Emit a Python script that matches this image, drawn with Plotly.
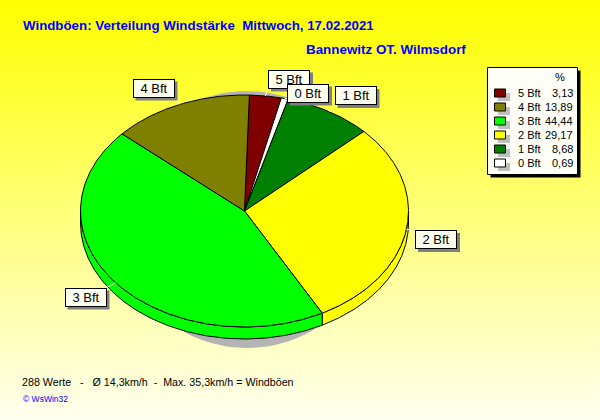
import math
import plotly.graph_objects as go

# ---- data -------------------------------------------------------------
slice_labels = ["5 Bft", "0 Bft", "1 Bft", "2 Bft", "3 Bft", "4 Bft"]
slice_values = [3.13, 0.69, 8.68, 29.17, 44.44, 13.89]
slice_colors = ["#800000", "#FFFFFF", "#008000", "#FFFF00", "#00FF00", "#808000"]

legend_labels = ["5 Bft", "4 Bft", "3 Bft", "2 Bft", "1 Bft", "0 Bft"]
legend_values = ["3,13", "13,89", "44,44", "29,17", "8,68", "0,69"]
legend_colors = ["#800000", "#808000", "#00FF00", "#FFFF00", "#008000", "#FFFFFF"]

title_1 = "Windböen: Verteilung Windstärke\u00a0\u00a0Mittwoch, 17.02.2021"
title_2 = "Bannewitz OT. Wilmsdorf"
footer_1 = "288 Werte\u00a0\u00a0\u00a0-\u00a0\u00a0\u00a0Ø 14,3km/h\u00a0\u00a0-\u00a0\u00a0Max. 35,3km/h = Windböen"
footer_2 = "© WsWin32"

# label box left/top edges, keyed by slice label (layout, in px)
label_boxes = {
    "5 Bft": (268, 69.5), "0 Bft": (287, 83.5), "1 Bft": (334.5, 86),
    "4 Bft": (132.5, 78.5), "2 Bft": (415, 230), "3 Bft": (64.5, 287.5),
}
# ---- geometry ---------------------------------------------------------
W, H = 600, 420
CX, CY, RX, RY = 244.5, 211, 164, 116
DEPTH = 12
START = 1.7
BOX_W, BOX_H = 42, 19


def pt(deg, dy=0):
    a = math.radians(deg)
    return CX + RX * math.sin(a), CY - RY * math.cos(a) + dy


def arc(a0, a1, dy=0):
    n = max(2, int(abs(a1 - a0)) * 2)
    return [pt(a0 + (a1 - a0) * i / n, dy) for i in range(n + 1)]


fig = go.Figure()

def poly(points, fill, line=None, width=1):
    fig.add_trace(go.Scatter(
        x=[p[0] for p in points] + [points[0][0]],
        y=[p[1] for p in points] + [points[0][1]],
        mode="lines", fill="toself", fillcolor=fill,
        line=dict(color=line or fill, width=width if line else 0),
        hoverinfo="skip", showlegend=False))

# gradient page background
fig.add_trace(go.Scatter(
    x=[0, W, W, 0, 0], y=[0, 0, H, H, 0], mode="lines", fill="toself",
    fillgradient=dict(type="vertical",
                      colorscale=[[0, "#FFFFF0"], [1, "#FFFF00"]]),
    line=dict(width=0), hoverinfo="skip", showlegend=False))

# drop shadow ellipse
shadow = [(247 + 130 * math.sin(math.radians(a)),
           219.5 - 128.5 * math.cos(math.radians(a))) for a in range(0, 360, 3)]
poly(shadow, "#B4B4B4")

# slices
total = sum(slice_values)
edges = [START]
for v in slice_values:
    edges.append(edges[-1] + v / total * 360)

# rim (front half only)
for c, a0, a1 in zip(slice_colors, edges[:-1], edges[1:]):
    lo, hi = max(a0, 90), min(a1, 270)
    if lo < hi:
        poly(arc(lo, hi) + arc(hi, lo, DEPTH), c, "#000000")

# top face
for c, a0, a1 in zip(slice_colors, edges[:-1], edges[1:]):
    poly([(CX, CY)] + arc(a0, a1), c, "#000000")

shapes, annotations = [], []

# slice label boxes and leaders
for lab, a0, a1 in zip(slice_labels, edges[:-1], edges[1:]):
    bx, by = label_boxes[lab]
    px, py = pt((a0 + a1) / 2)
    qx = min(max(px, bx), bx + BOX_W)
    qy = min(max(py, by), by + BOX_H)
    shapes.append(dict(type="line", x0=px, y0=py, x1=qx, y1=qy,
                       line=dict(color="#FFFFFF", width=1)))
    shapes.append(dict(type="rect", x0=bx + 3, y0=by + 3, x1=bx + BOX_W + 3,
                       y1=by + BOX_H + 3, fillcolor="#808080", line_width=0))
for lab in ["5 Bft", "4 Bft", "1 Bft", "2 Bft", "3 Bft", "0 Bft"]:
    bx, by = label_boxes[lab]
    annotations.append(dict(
        x=bx, y=by, xref="x", yref="y", xanchor="left", yanchor="top",
        text=lab, showarrow=False, width=BOX_W - 2, height=BOX_H - 2,
        borderpad=0, borderwidth=1, bordercolor="#000000", bgcolor="#FFFFF0",
        align="center", valign="middle",
        font=dict(family="Liberation Sans", size=13, color="#000000")))

# legend box
LX0, LY0, LX1, LY1 = 487.5, 67.5, 577.5, 174.5
shapes.append(dict(type="rect", x0=LX0 + 3, y0=LY0 + 3, x1=LX1 + 3, y1=LY1 + 3,
                   fillcolor="#000000", line_width=0))
shapes.append(dict(type="rect", x0=LX0, y0=LY0, x1=LX1, y1=LY1,
                   fillcolor="#FFFFF8", line=dict(color="#000000", width=1)))


def text(x, y, s, anchor="left", size=11, color="#000000", bold=False):
    annotations.append(dict(
        x=x, y=y, xref="x", yref="y", xanchor=anchor, yanchor="middle",
        text=f"<b>{s}</b>" if bold else s, showarrow=False, borderpad=0,
        font=dict(family="Liberation Sans", size=size, color=color)))


text(560, 77, "%", "center")
for i, (lab, val, col) in enumerate(zip(legend_labels, legend_values, legend_colors)):
    yc = 93 + 14 * i
    shapes.append(dict(type="rect", x0=498, y0=yc - 0, x1=510, y1=yc + 8,
                       fillcolor="#C0C0C0", line_width=0))
    shapes.append(dict(type="rect", x0=494.5, y0=yc - 4, x1=505.5, y1=yc + 4,
                       fillcolor=col, line=dict(color="#000000", width=1)))
    text(516.5, yc, lab)
    text(573.5, yc, val, "right")

text(22, 25, title_1, size=13.3, color="#0000FF", bold=True)
text(304.5, 49, title_2, size=13.4, color="#0000FF", bold=True)
text(21, 382, footer_1, size=10.7)
text(22, 398.5, footer_2, size=8.5, color="#0000FF")

fig.update_layout(
    width=W, height=H, margin=dict(l=0, r=0, t=0, b=0),
    paper_bgcolor="#FFFFF0", plot_bgcolor="rgba(0,0,0,0)",
    xaxis=dict(range=[0, W], visible=False, fixedrange=True),
    yaxis=dict(range=[H, 0], visible=False, fixedrange=True),
    showlegend=False, shapes=shapes, annotations=annotations)

fig.write_html("out.html", config={"displayModeBar": False},
               post_script="document.body.style.margin='0';")
